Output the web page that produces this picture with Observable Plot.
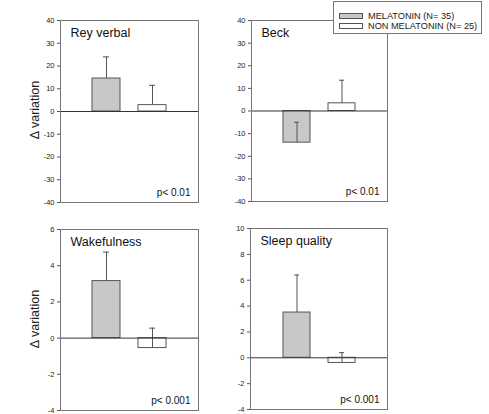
<!DOCTYPE html>
<html>
<head>
<meta charset="utf-8">
<script src="https://cdn.jsdelivr.net/npm/d3@7"></script>
<script src="https://cdn.jsdelivr.net/npm/@observablehq/plot@0.6"></script>
<style>
  body { margin: 0; background: white; }
  #wrap { position: relative; width: 489px; height: 414px; overflow: hidden; font-family: "Liberation Sans", Arial, sans-serif; }
  .ylab { position: absolute; font-size: 12.5px; color: #222; transform: translate(-50%, -50%) rotate(-90deg); white-space: nowrap; }
  #legend { position: absolute; left: 333px; top: 1px; width: 149px; height: 33px; border: 1px solid #777; background: white; box-sizing: border-box; }
  .lrow { position: absolute; left: 5px; display: flex; align-items: center; font-size: 9.2px; color: #222; white-space: nowrap; }
  .sw { width: 22px; height: 4px; border: 1px solid #555; margin-right: 5px; }
</style>
</head>
<body>
<div id="wrap"></div>
<script>
const panels = ["Rey verbal", "Beck", "Wakefulness", "Sleep quality"];
const groups = ["MELATONIN (N= 35)", "NON MELATONIN (N= 25)"];
const groupColors = ["#c8c8c8", "#ffffff"];
const melatonin = [14.5, -14, 3.15, 3.5];
const melatoninErrEnd = [24, -5, 4.75, 6.4];
const nonMelatonin = [2.8, 3.4, -0.55, -0.4];
const nonMelatoninErrEnd = [11.5, 13.6, 0.55, 0.4];
const pValues = ["p< 0.01", "p< 0.01", "p< 0.001", "p< 0.001"];
const yDomains = [[-40, 40], [-40, 40], [-4, 6], [-4, 10]];
const yTickValues = [
  [-40, -30, -20, -10, 0, 10, 20, 30, 40],
  [-40, -30, -20, -10, 0, 10, 20, 30, 40],
  [-4, -2, 0, 2, 4, 6],
  [-4, -2, 0, 2, 4, 6, 8, 10]
];
const yLabel = "Δ variation";

// layout: [svgLeft, svgTop, frameWidth, frameHeight]
const layout = [
  [30, 16, 138, 182],
  [221, 16, 136, 181],
  [30, 225, 138, 181],
  [220, 224, 137, 181]
];
const M = {l: 30, r: 4, t: 4, b: 4};
const font = "Liberation Sans, Arial, sans-serif";
const wrap = document.getElementById("wrap");

panels.forEach((title, i) => {
  const data = [
    {group: groups[0], value: melatonin[i], err: melatoninErrEnd[i]},
    {group: groups[1], value: nonMelatonin[i], err: nonMelatoninErrEnd[i]}
  ];
  const [L, T, W, H] = layout[i];
  const chart = Plot.plot({
    width: M.l + W + M.r,
    height: M.t + H + M.b,
    marginLeft: M.l, marginRight: M.r, marginTop: M.t, marginBottom: M.b,
    style: {fontFamily: font, background: "transparent", overflow: "visible"},
    x: {domain: groups, paddingInner: 0.4, paddingOuter: 0.7, axis: null},
    y: {domain: yDomains[i]},
    color: {domain: groups, range: groupColors},
    marks: [
      Plot.barY(data, {x: "group", y: "value", fill: "group", stroke: "#555", strokeWidth: 1}),
      Plot.ruleX(data, {x: "group", y1: "value", y2: "err", stroke: "#555", strokeWidth: 1}),
      Plot.tickY(data, {x: "group", y: "err", stroke: "#555", strokeWidth: 1, insetLeft: 11, insetRight: 11}),
      Plot.ruleY([0], {stroke: "#333", strokeWidth: 1}),
      Plot.frame({stroke: "#777", strokeWidth: 1}),
      Plot.axisY({ticks: yTickValues[i], tickFormat: d => String(d), tickSize: 3, tickPadding: 3, fontSize: 7.5, stroke: "#555", fill: "#222", label: null}),
      Plot.text([title], {frameAnchor: "top-left", dx: 10, dy: 8, fontSize: 12.5, fill: "#111", textAnchor: "start"}),
      Plot.text([pValues[i]], {frameAnchor: "bottom-right", dx: -8, dy: -7, fontSize: 10, fill: "#111", textAnchor: "end"})
    ]
  });
  chart.style.position = "absolute";
  chart.style.left = L + "px";
  chart.style.top = T + "px";
  wrap.appendChild(chart);
  if (i % 2 === 0) {
    const lab = document.createElement("div");
    lab.className = "ylab";
    lab.textContent = yLabel;
    lab.style.left = "35px";
    lab.style.top = (T + M.t + H / 2 - 1) + "px";
    wrap.appendChild(lab);
  }
});

const legend = document.createElement("div");
legend.id = "legend";
groups.forEach((g, k) => {
  const row = document.createElement("div");
  row.className = "lrow";
  row.style.top = (k === 0 ? 9 : 19) + "px";
  row.style.height = "10px";
  const sw = document.createElement("div");
  sw.className = "sw";
  sw.style.background = groupColors[k];
  const t = document.createElement("span");
  t.textContent = g;
  row.appendChild(sw);
  row.appendChild(t);
  legend.appendChild(row);
});
wrap.appendChild(legend);
</script>
</body>
</html>
